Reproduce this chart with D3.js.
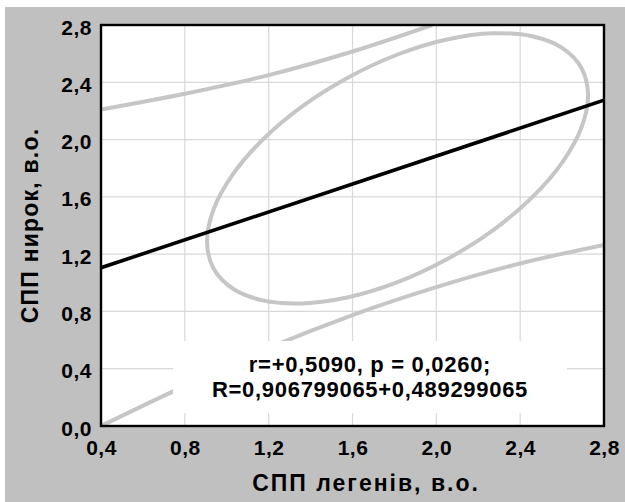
<!DOCTYPE html>
<html lang="uk">
<head>
    <meta charset="UTF-8">
    <title>СПП легенів / СПП нирок</title>
    <script src="https://cdn.jsdelivr.net/npm/d3@7"></script>
    <style>
        body {
            margin: 0;
            padding: 0;
            background-color: #ffffff;
        }

        svg text {
            font-family: 'Liberation Sans', Arial, sans-serif;
            font-weight: bold;
            fill: #000;
        }
    </style>
</head>
<body>
    <svg id="chart"></svg>

    <script>
        // values
        const xTicks = [0.4, 0.8, 1.2, 1.6, 2.0, 2.4, 2.8];
        const yTicks = [0.0, 0.4, 0.8, 1.2, 1.6, 2.0, 2.4, 2.8];

        const lineX = [0.4, 2.8];
        const lineY = [1.105, 2.275];

        const upperBandX = [0.4, 0.8, 1.2, 1.6, 1.98];
        const upperBandY = [2.21, 2.32, 2.45, 2.615, 2.80];

        const lowerBandX = [0.4, 0.8, 1.2, 1.6, 2.0, 2.4, 2.8];
        const lowerBandY = [0.0, 0.28, 0.545, 0.775, 0.97, 1.135, 1.265];

        // confidence ellipse, traced round from its rightmost point
        const ellipseX = [2.724, 2.693, 2.602, 2.458, 2.270, 2.050, 1.815, 1.580, 1.360, 1.172, 1.028, 0.937,
                          0.906, 0.937, 1.028, 1.172, 1.360, 1.580, 1.815, 2.050, 2.270, 2.458, 2.602, 2.693];
        const ellipseY = [2.309, 2.498, 2.638, 2.721, 2.742, 2.699, 2.594, 2.434, 2.232, 2.000, 1.755, 1.512,
                          1.289, 1.100, 0.960, 0.877, 0.856, 0.899, 1.004, 1.164, 1.366, 1.598, 1.843, 2.086];

        const statsLines = ["r=+0,5090, p = 0,0260;", "R=0,906799065+0,489299065"];
        const xTitle = "СПП легенів, в.о.";
        const yTitle = "СПП нирок, в.о.";

        const width = 625;
        const height = 502;
        const plot = { left: 101, right: 604, top: 25, bottom: 426 };

        const svg = d3.select("#chart")
            .attr("width", width)
            .attr("height", height);

        // grey frame
        svg.append("rect")
            .attr("x", 5)
            .attr("y", 7)
            .attr("width", width - 5)
            .attr("height", height - 7)
            .attr("fill", "#c0c0c0");

        const x = d3.scaleLinear().domain([0.4, 2.8]).range([plot.left, plot.right]);
        const y = d3.scaleLinear().domain([0, 2.8]).range([plot.bottom, plot.top]);

        const locale = d3.formatLocale({ decimal: ",", thousands: " ", grouping: [3], currency: ["", ""] });
        const fmt = locale.format(".1f");

        svg.append("rect")
            .attr("x", plot.left)
            .attr("y", plot.top)
            .attr("width", plot.right - plot.left)
            .attr("height", plot.bottom - plot.top)
            .attr("fill", "#fff");

        svg.append("clipPath")
            .attr("id", "plot-clip")
            .append("rect")
            .attr("x", plot.left)
            .attr("y", plot.top)
            .attr("width", plot.right - plot.left)
            .attr("height", plot.bottom - plot.top);

        // grid
        svg.append("g")
            .selectAll("line")
            .data(xTicks.slice(1, -1))
            .enter().append("line")
            .attr("x1", d => x(d)).attr("x2", d => x(d))
            .attr("y1", plot.top).attr("y2", plot.bottom)
            .attr("stroke", "#d8d8d8")
            .attr("stroke-width", 1.2);

        svg.append("g")
            .selectAll("line")
            .data(yTicks.slice(1, -1))
            .enter().append("line")
            .attr("y1", d => y(d)).attr("y2", d => y(d))
            .attr("x1", plot.left).attr("x2", plot.right)
            .attr("stroke", "#d8d8d8")
            .attr("stroke-width", 1.2);

        const plotArea = svg.append("g").attr("clip-path", "url(#plot-clip)");

        const line = d3.line()
            .x(d => x(d[0]))
            .y(d => y(d[1]))
            .curve(d3.curveCatmullRom);

        plotArea.append("path")
            .datum(upperBandX.map((v, i) => [v, upperBandY[i]]))
            .attr("d", line)
            .attr("fill", "none")
            .attr("stroke", "#c6c6c6")
            .attr("stroke-width", 4);

        plotArea.append("path")
            .datum(lowerBandX.map((v, i) => [v, lowerBandY[i]]))
            .attr("d", line)
            .attr("fill", "none")
            .attr("stroke", "#c6c6c6")
            .attr("stroke-width", 4);

        plotArea.append("path")
            .datum(ellipseX.map((v, i) => [v, ellipseY[i]]))
            .attr("d", line.curve(d3.curveCatmullRomClosed))
            .attr("fill", "none")
            .attr("stroke", "#c6c6c6")
            .attr("stroke-width", 4);

        plotArea.append("path")
            .datum(lineX.map((v, i) => [v, lineY[i]]))
            .attr("d", line.curve(d3.curveLinear))
            .attr("fill", "none")
            .attr("stroke", "#000")
            .attr("stroke-width", 3.6);

        // annotation box
        const box = { x0: 173, x1: 567, y0: 341, y1: 413 };
        svg.append("rect")
            .attr("x", box.x0)
            .attr("y", box.y0)
            .attr("width", box.x1 - box.x0)
            .attr("height", box.y1 - box.y0)
            .attr("fill", "#fff");

        svg.append("g")
            .selectAll("text")
            .data(statsLines)
            .enter().append("text")
            .attr("x", (box.x0 + box.x1) / 2)
            .attr("y", (d, i) => 372 + i * 25)
            .attr("text-anchor", "middle")
            .style("font-size", "22px")
            .style("letter-spacing", "0.7px")
            .text(d => d);

        // frame
        svg.append("rect")
            .attr("x", plot.left)
            .attr("y", plot.top)
            .attr("width", plot.right - plot.left)
            .attr("height", plot.bottom - plot.top)
            .attr("fill", "none")
            .attr("stroke", "#000")
            .attr("stroke-width", 2.4);

        // axes
        const xAxis = svg.append("g")
            .attr("transform", `translate(0,${plot.bottom})`)
            .call(d3.axisBottom(x).tickValues(xTicks).tickFormat(fmt).tickSize(0).tickPadding(0));
        xAxis.select(".domain").remove();
        xAxis.selectAll("text")
            .attr("y", 29)
            .attr("dy", null)
            .style("font-size", "21px")
            .style("letter-spacing", "0.5px")
            .attr("fill", "#000");

        const yAxis = svg.append("g")
            .attr("transform", `translate(${plot.left},0)`)
            .call(d3.axisLeft(y).tickValues(yTicks).tickFormat(fmt).tickSize(0).tickPadding(0));
        yAxis.select(".domain").remove();
        yAxis.selectAll("text")
            .attr("x", -9)
            .attr("dy", null)
            .attr("y", 9)
            .style("font-size", "21px")
            .style("letter-spacing", "0.5px")
            .attr("fill", "#000");

        svg.append("text")
            .attr("x", 366)
            .attr("y", 491)
            .attr("text-anchor", "middle")
            .style("font-size", "23px")
            .style("letter-spacing", "2px")
            .text(xTitle);

        svg.append("text")
            .attr("transform", `translate(38,${(plot.top + plot.bottom) / 2}) rotate(-90)`)
            .attr("text-anchor", "middle")
            .style("font-size", "23px")
            .style("letter-spacing", "1.2px")
            .text(yTitle);
    </script>
</body>
</html>
